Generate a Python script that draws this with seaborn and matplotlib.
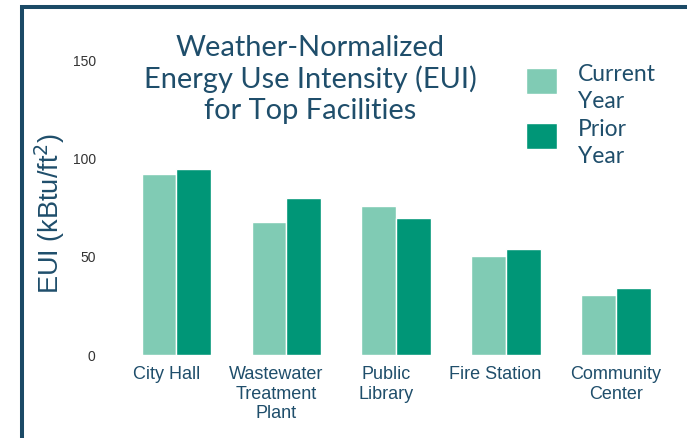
import pandas as pd
import seaborn as sns
import matplotlib
matplotlib.use("Agg")
import matplotlib.pyplot as plt
from matplotlib.patches import Rectangle
from matplotlib.transforms import ScaledTranslation

# values (kBtu/ft2)
facilities = ["City Hall", "Wastewater\nTreatment\nPlant", "Public\nLibrary",
              "Fire Station", "Community\nCenter"]
current_year = [91.5, 67.5, 75.4, 50.1, 30.2]
prior_year = [94.0, 79.3, 69.5, 53.5, 33.6]
series_names = ["Current\nYear", "Prior\nYear"]
palette = ["#80CBB4", "#009677"]

navy = "#1f4e6b"

df = pd.DataFrame({
    "facility": facilities * 2,
    "eui": current_year + prior_year,
    "year": [series_names[0]] * len(facilities) + [series_names[1]] * len(facilities),
})

sns.set_theme(style="white")
plt.rcParams["font.family"] = ["Liberation Sans", "DejaVu Sans"]

W, H = 687, 439
fig = plt.figure(figsize=(W / 100, H / 100), dpi=100)
ax = fig.add_axes([121.35 / W, (H - 355.5) / H, 549.5 / W, 295.5 / H])

sns.barplot(data=df, x="facility", y="eui", hue="year", palette=palette,
            width=0.63, edgecolor="white", linewidth=1, saturation=1, ax=ax)

ax.set_xlim(-0.5, 4.5)
ax.set_ylim(0, 150)
ax.set_yticks([0, 50, 100, 150])
ax.tick_params(axis="y", length=0, pad=18.5, labelsize=10, labelcolor="#333333")
ax.tick_params(axis="x", length=0, pad=7.5, labelsize=13, labelcolor=navy)
ax.set_xlabel("")
ax.set_ylabel("EUI (kBtu/ft$^2$)", fontsize=19.5, color=navy, labelpad=4, y=0.48)
sns.despine(ax=ax, left=True, bottom=True)

# category labels sit a little left of their bars in the original
shifts = [-10, -10, -10, -11, 0]
for lbl, dx in zip(ax.get_xticklabels(), shifts):
    lbl.set_transform(lbl.get_transform() + ScaledTranslation(dx / 100, 0, fig.dpi_scale_trans))

handles, _ = ax.get_legend_handles_labels()
leg = ax.legend(handles, series_names, loc="upper left",
                bbox_to_anchor=(526 / W, (H - 57) / H), bbox_transform=fig.transFigure,
                frameon=False, prop={"family": "Lato", "size": 16.5},
                labelcolor=navy, handlelength=1.35, handleheight=1.35,
                handletextpad=0.93, labelspacing=0.32, borderpad=0, borderaxespad=0)
for t in leg.get_texts():
    t.set_linespacing(1.35)
    t.set_transform(t.get_transform() + ScaledTranslation(0, -0.07, fig.dpi_scale_trans))

fig.text(310 / W, (H - 79.5) / H,
         "Weather-Normalized\nEnergy Use Intensity (EUI)\nfor Top Facilities",
         ha="center", va="center", fontsize=20.9, color=navy, family="Lato",
         linespacing=1.2)

# dark frame, right and bottom edges fall outside the image
fig.add_artist(Rectangle((22 / W, -0.2), 1.0, (H - 8) / H + 0.2,
                         transform=fig.transFigure, fill=False,
                         edgecolor="#1b4a66", linewidth=2.9))

fig.savefig("out.png", dpi=100)
